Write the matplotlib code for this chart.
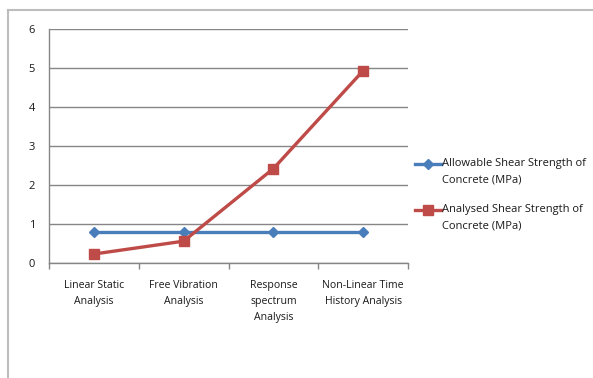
import matplotlib
matplotlib.use("Agg")
import matplotlib.pyplot as plt
from matplotlib.lines import Line2D

categories = ["Linear Static\nAnalysis", "Free Vibration\nAnalysis",
              "Response\nspectrum\nAnalysis", "Non-Linear Time\nHistory Analysis"]
allowable = [0.8, 0.8, 0.8, 0.8]
analysed = [0.23, 0.56, 2.42, 4.93]
series_names = ["Allowable Shear Strength of\nConcrete (MPa)",
                "Analysed Shear Strength of\nConcrete (MPa)"]
yticks = [0, 1, 2, 3, 4, 5, 6]

W, H = 593, 378
fig = plt.figure(figsize=(W / 100, H / 100), dpi=100)
plt.rcParams["font.family"] = ["Open Sans", "DejaVu Sans"]

def fx(px):
    return px / W

def fy(py):
    return 1 - py / H

ax = fig.add_axes([fx(49), fy(263), fx(408) - fx(49), fy(29) - fy(263)])

blue = "#4a7ebb"
red = "#be4b48"
grid = "#868686"
text_col = "#1a1a1a"

x = list(range(len(categories)))
ax.plot(x, allowable, color=blue, lw=2.4, marker="D", ms=5.5, zorder=3)
ax.plot(x, analysed, color=red, lw=2.4, marker="s", ms=7.5, zorder=4)

ax.set_xlim(-0.5, len(categories) - 0.5)
ax.set_ylim(0, 6)
ax.set_yticks(yticks)
ax.set_yticklabels([str(v) for v in yticks], fontsize=8, color=text_col)
ax.yaxis.grid(True, color=grid, lw=1)
ax.set_axisbelow(True)

ax.set_xticks([i - 0.5 for i in range(len(categories) + 1)])
ax.set_xticklabels([])
ax.set_xticks(x, minor=True)
ax.set_xticklabels(categories, minor=True, fontsize=7.6, linespacing=1.65,
                   color=text_col)
ax.tick_params(axis="x", which="major", length=4, color=grid, width=1)
ax.tick_params(axis="x", which="minor", length=0, pad=12)
ax.tick_params(axis="y", length=0, pad=10)

for s in ["top", "right"]:
    ax.spines[s].set_visible(False)
for s in ["left", "bottom"]:
    ax.spines[s].set_color(grid)
    ax.spines[s].set_linewidth(1)

# outer chart border (top and left edges visible)
fig.add_artist(Line2D([fx(8), 1], [fy(10), fy(10)], color="#bdbdbd", lw=1.5))
fig.add_artist(Line2D([fx(8), fx(8)], [fy(10), 0], color="#bdbdbd", lw=1.5))

# legend
for name, col, mk, ms, ypx in [(series_names[0], blue, "D", 5, 164),
                              (series_names[1], red, "s", 6.5, 210)]:
    fig.add_artist(Line2D([fx(415), fx(441)], [fy(ypx), fy(ypx)], color=col, lw=2.4))
    fig.add_artist(Line2D([fx(428)], [fy(ypx)], color=col, marker=mk, ms=ms))
    fig.text(fx(442), fy(ypx - 6), name, fontsize=8, va="top", ha="left",
             linespacing=1.65, color=text_col)

fig.savefig("out.png", dpi=100)
